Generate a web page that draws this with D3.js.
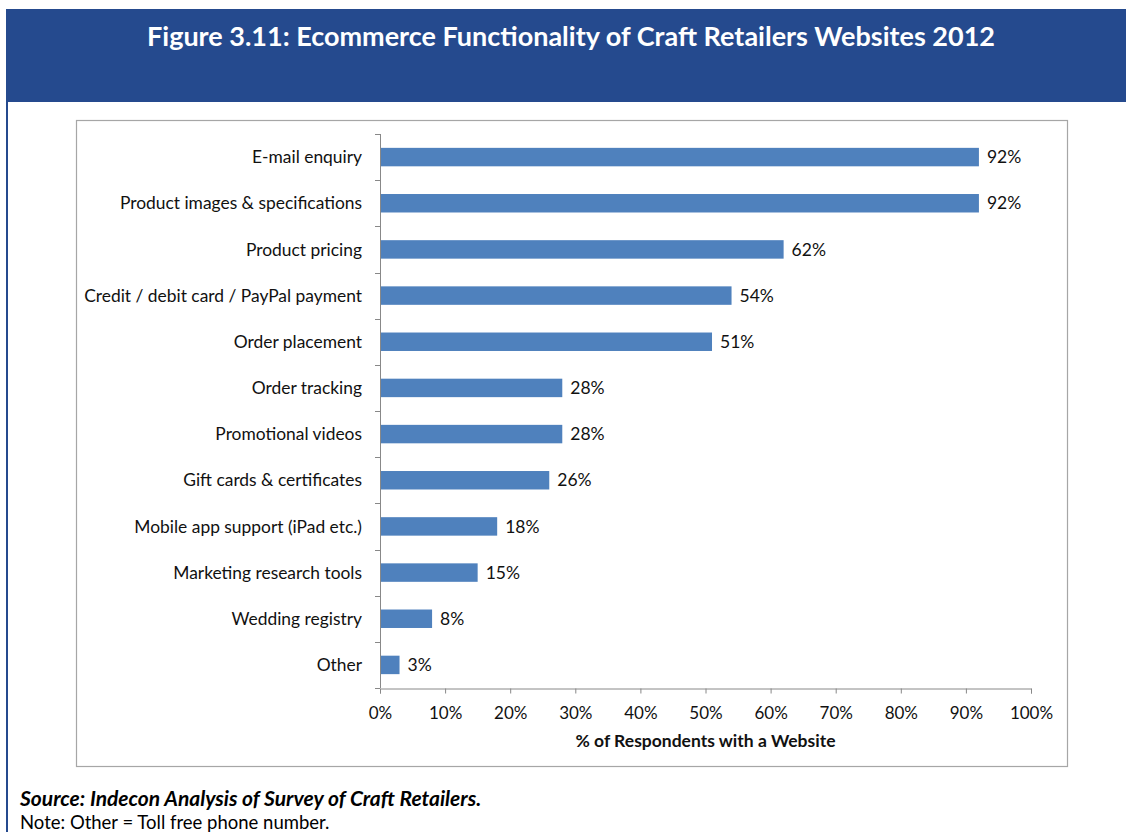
<!DOCTYPE html>
<html>
<head>
<meta charset="utf-8">
<script src="https://cdn.jsdelivr.net/npm/d3@7"></script>
<style>
  html, body { margin: 0; padding: 0; background: #fff; }
  svg { display: block; font-family: Lato, "Open Sans", sans-serif; }
</style>
</head>
<body>
<svg id="chart" width="1126" height="832"></svg>
<script>
// Ecommerce functionality offered on craft retailers' websites, 2012
const categories = [
  "E-mail enquiry",
  "Product images & specifications",
  "Product pricing",
  "Credit / debit card / PayPal payment",
  "Order placement",
  "Order tracking",
  "Promotional videos",
  "Gift cards & certificates",
  "Mobile app support (iPad etc.)",
  "Marketing research tools",
  "Wedding registry",
  "Other"
];
const values = [92, 92, 62, 54, 51, 28, 28, 26, 18, 15, 8, 3];
const xTicks = [0, 10, 20, 30, 40, 50, 60, 70, 80, 90, 100];

const titleText = "Figure 3.11: Ecommerce Functionality of Craft Retailers Websites 2012";
const axisTitle = "% of Respondents with a Website";
const sourceText = "Source: Indecon Analysis of Survey of Craft Retailers.";
const noteText = "Note: Other = Toll free phone number.";

const svg = d3.select("#chart");
const navy = "#254A8E";

// Header band and left rule
svg.append("rect").attr("x", 6).attr("y", 9).attr("width", 1120).attr("height", 93).attr("fill", navy);
svg.append("rect").attr("x", 6).attr("y", 9).attr("width", 2).attr("height", 823).attr("fill", navy);

svg.append("text")
  .attr("x", 571).attr("y", 46)
  .attr("text-anchor", "middle")
  .attr("fill", "#fff")
  .attr("font-weight", "bold")
  .attr("font-size", 27)
  .text(titleText);

// Chart frame
svg.append("rect")
  .attr("x", 76.5).attr("y", 120.5).attr("width", 991).attr("height", 646)
  .attr("fill", "#fff").attr("stroke", "#a6a6a6").attr("stroke-width", 1.2);

const plot = { left: 380, right: 1031, top: 134, bottom: 688 };

const x = d3.scaleLinear().domain([0, 100]).range([plot.left, plot.right]);
const y = d3.scaleBand().domain(categories).range([plot.top, plot.bottom]).paddingInner(0.6).paddingOuter(0.3);
const yOuter = d3.scaleBand().domain(categories).range([plot.top, plot.bottom]);

// Bars
svg.append("g").selectAll("rect")
  .data(categories)
  .join("rect")
  .attr("x", x(0))
  .attr("y", d => y(d))
  .attr("width", (d, i) => x(values[i]) - x(0))
  .attr("height", y.bandwidth())
  .attr("fill", "#4F81BD");

// Value labels
svg.append("g").selectAll("text")
  .data(categories)
  .join("text")
  .attr("x", (d, i) => x(values[i]) + 8)
  .attr("y", d => y(d) + y.bandwidth() / 2)
  .attr("dy", "0.35em")
  .attr("font-size", 17.5)
  .attr("fill", "#111")
  .text((d, i) => values[i] + "%");

// Category axis with ticks between bands
const yAxisG = svg.append("g");
yAxisG.append("line")
  .attr("x1", plot.left + 0.5).attr("x2", plot.left + 0.5)
  .attr("y1", plot.top).attr("y2", plot.bottom)
  .attr("stroke", "#888");
const bounds = categories.map(c => yOuter(c)).concat([plot.bottom]);
yAxisG.selectAll("line.tick")
  .data(bounds)
  .join("line")
  .attr("class", "tick")
  .attr("x1", plot.left - 5).attr("x2", plot.left)
  .attr("y1", d => Math.round(d) + 0.5).attr("y2", d => Math.round(d) + 0.5)
  .attr("stroke", "#888");
yAxisG.selectAll("text")
  .data(categories)
  .join("text")
  .attr("x", 362)
  .attr("y", d => yOuter(d) + yOuter.bandwidth() / 2)
  .attr("dy", "0.35em")
  .attr("text-anchor", "end")
  .attr("font-size", 17.4)
  .attr("fill", "#111")
  .text(d => d);

// Value axis
const xAxis = d3.axisBottom(x)
  .tickValues(xTicks)
  .tickFormat(d => d + "%")
  .tickSize(5)
  .tickPadding(13);
const xg = svg.append("g")
  .attr("transform", `translate(0,${plot.bottom + 0.5})`)
  .call(xAxis);
xg.select(".domain").attr("stroke", "#888");
xg.selectAll(".tick line").attr("stroke", "#888");
xg.selectAll(".tick text")
  .attr("font-size", 17)
  .attr("font-family", "Lato, 'Open Sans', sans-serif")
  .attr("fill", "#111");

svg.append("text")
  .attr("x", (plot.left + plot.right) / 2)
  .attr("y", 747)
  .attr("text-anchor", "middle")
  .attr("font-weight", "bold")
  .attr("font-size", 17.5)
  .attr("fill", "#111")
  .text(axisTitle);

// Source and note
svg.append("text")
  .attr("x", 20).attr("y", 806)
  .attr("font-weight", "bold")
  .attr("font-style", "italic")
  .attr("font-size", 21)
  .attr("fill", "#000")
  .text(sourceText);
svg.append("text")
  .attr("x", 20).attr("y", 829)
  .attr("font-size", 18.5)
  .attr("fill", "#000")
  .text(noteText);
</script>
</body>
</html>
